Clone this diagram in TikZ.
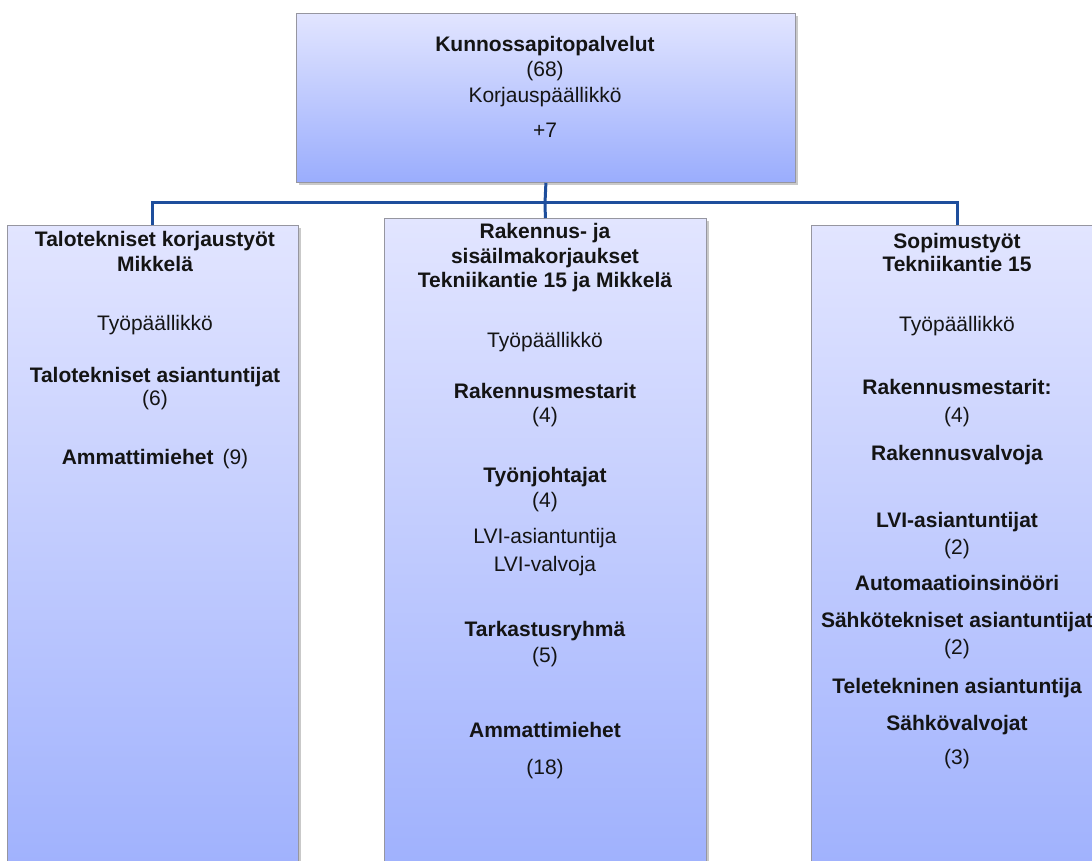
\documentclass[tikz,border=0pt]{standalone}
\usepackage{fontspec}
\setmainfont{Liberation Sans}
\usetikzlibrary{shadows}
\definecolor{lineblue}{RGB}{30,78,156}
\definecolor{boxtop}{RGB}{226,229,255}
\definecolor{boxbot}{RGB}{154,173,253}
\definecolor{boxedge}{RGB}{150,150,160}
\definecolor{txtcol}{RGB}{20,20,20}
\tikzset{
  orgbox/.style={rectangle, anchor=north west, inner sep=0pt, draw=boxedge, line width=0.8pt,
    top color=boxtop, bottom color=boxbot,
    drop shadow={shadow xshift=2.5pt, shadow yshift=-2.5pt, opacity=0.35, fill=black!60}},
  tn/.style={anchor=base, inner sep=0pt, text=txtcol, font=\fontsize{21}{24}\selectfont},
  tb/.style={tn, font=\fontsize{21}{24}\selectfont\bfseries},
  conn/.style={draw=lineblue, line width=3pt}
}
\begin{document}
\begin{tikzpicture}[x=1pt,y=-1pt]
\clip (0,0) rectangle (1092,861);
\fill[white] (0,0) rectangle (1092,861);
% boxes
\node (top) [orgbox, minimum width=499pt, minimum height=169pt] at (296,13) {};
\node (left) [orgbox, minimum width=291pt, minimum height=700pt] at (7,225) {};
\node (mid) [orgbox, minimum width=322pt, minimum height=700pt] at (384,218) {};
\node (right) [orgbox, minimum width=292pt, minimum height=700pt] at (811,225) {};
% connectors
\coordinate (bus) at (545,203);
\draw[conn] (top.south) -- (bus);
\draw[conn] (bus) -| (left.north);
\draw[conn] (bus) -| (right.north);
\draw[conn] (bus) -- (mid.north);
% top box text
\node (t1) [tb] at (545,52) {Kunnossapitopalvelut};
\node (t2) [tn] at (545,77) {(68)};
\node (t3) [tn] at (545,103) {Korjauspäällikkö};
\node (t4) [tn] at (545,138) {+7};
% left box text
\node (l1) [tb] at (155,247) {Talotekniset korjaustyöt};
\node (l2) [tb] at (155,271) {Mikkelä};
\node (l3) [tn] at (155,330) {Työpäällikkö};
\node (l4) [tb] at (155,382) {Talotekniset asiantuntijat};
\node (l5) [tn] at (155,405) {(6)};
\node (l6) [tn] at (155,464) {\textbf{Ammattimiehet}\hspace{9pt}(9)};
% middle box text
\node (m1) [tb] at (545,239) {Rakennus- ja};
\node (m2) [tb] at (545,263) {sisäilmakorjaukset};
\node (m3) [tb] at (545,287) {Tekniikantie 15 ja Mikkelä};
\node (m4) [tn] at (545,347) {Työpäällikkö};
\node (m5) [tb] at (545,398) {Rakennusmestarit};
\node (m6) [tn] at (545,422) {(4)};
\node (m7) [tb] at (545,482) {Työnjohtajat};
\node (m8) [tn] at (545,507) {(4)};
\node (m9) [tn] at (545,543) {LVI-asiantuntija};
\node (m10) [tn] at (545,571) {LVI-valvoja};
\node (m11) [tb] at (545,636) {Tarkastusryhmä};
\node (m12) [tn] at (545,662) {(5)};
\node (m13) [tb] at (545,737) {Ammattimiehet};
\node (m14) [tn] at (545,774) {(18)};
% right box text
\node (r1) [tb] at (957,248) {Sopimustyöt};
\node (r2) [tb] at (957,271) {Tekniikantie 15};
\node (r3) [tn] at (957,331) {Työpäällikkö};
\node (r4) [tb] at (957,394) {Rakennusmestarit:};
\node (r5) [tn] at (957,422) {(4)};
\node (r6) [tb] at (957,460) {Rakennusvalvoja};
\node (r7) [tb] at (957,527) {LVI-asiantuntijat};
\node (r8) [tn] at (957,554) {(2)};
\node (r9) [tb] at (957,590) {Automaatioinsinööri};
\node (r10) [tb] at (957,627) {Sähkötekniset asiantuntijat};
\node (r11) [tn] at (957,654) {(2)};
\node (r12) [tb] at (957,693) {Teletekninen asiantuntija};
\node (r13) [tb] at (957,730) {Sähkövalvojat};
\node (r14) [tn] at (957,764) {(3)};
\end{tikzpicture}
\end{document}
